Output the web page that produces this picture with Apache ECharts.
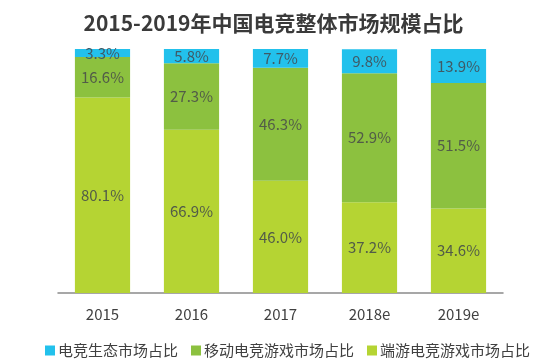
<!DOCTYPE html>
<html><head><meta charset="utf-8">
<script src="https://cdn.jsdelivr.net/npm/echarts@6/dist/echarts.min.js"></script>
<style>html,body{margin:0;padding:0;background:#fff}#c{width:547px;height:363px}</style>
</head><body><div id="c"></div>
<script>
const categories = ['2015', '2016', '2017', '2018e', '2019e'];
const pcGame = [80.1, 66.9, 46.0, 37.2, 34.6];
const mobileGame = [16.6, 27.3, 46.3, 52.9, 51.5];
const ecosystem = [3.3, 5.8, 7.7, 9.8, 13.9];
const seriesNames = ['电竞生态市场占比', '移动电竞游戏市场占比', '端游电竞游戏市场占比'];

const font = '"Noto Sans CJK SC", "Noto Sans", sans-serif';
const chart = echarts.init(document.getElementById('c'), null, {renderer: 'canvas'});
const lbl = {show: true, position: 'inside', color: '#525c48', fontSize: 15, fontFamily: font,
  formatter: p => p.value.toFixed(1) + '%'};
chart.setOption({
  animation: false,
  title: {text: '2015-2019年中国电竞整体市场规模占比', left: 'center', top: 8,
    textStyle: {fontSize: 21, fontWeight: 'bold', color: '#3a3a3a', fontFamily: font}},
  legend: {data: seriesNames, left: 40, top: 338, itemWidth: 10, itemHeight: 10, itemGap: 13,
    icon: 'rect', textStyle: {fontSize: 15, color: '#404040', fontFamily: font, padding: [0, 0, 0, -2]}},
  grid: {left: 58, right: 44, top: 49, bottom: 70},
  xAxis: {type: 'category', data: categories,
    axisLine: {lineStyle: {color: '#8a8a8a', width: 1.5}}, axisTick: {show: false},
    axisLabel: {fontSize: 15, color: '#404040', margin: 14, fontFamily: font}},
  yAxis: {type: 'value', min: 0, max: 100, show: false, splitLine: {show: false}},
  series: [
    {name: seriesNames[2], type: 'bar', stack: 'a', data: pcGame, barWidth: '62%',
      itemStyle: {color: '#b5d433'}, label: lbl},
    {name: seriesNames[1], type: 'bar', stack: 'a', data: mobileGame,
      itemStyle: {color: '#8cc13f'}, label: lbl},
    {name: seriesNames[0], type: 'bar', stack: 'a', data: ecosystem,
      itemStyle: {color: '#22c1ec'}, label: Object.assign({}, lbl, {color: '#3f5a66'})}
  ]
});
</script></body></html>
